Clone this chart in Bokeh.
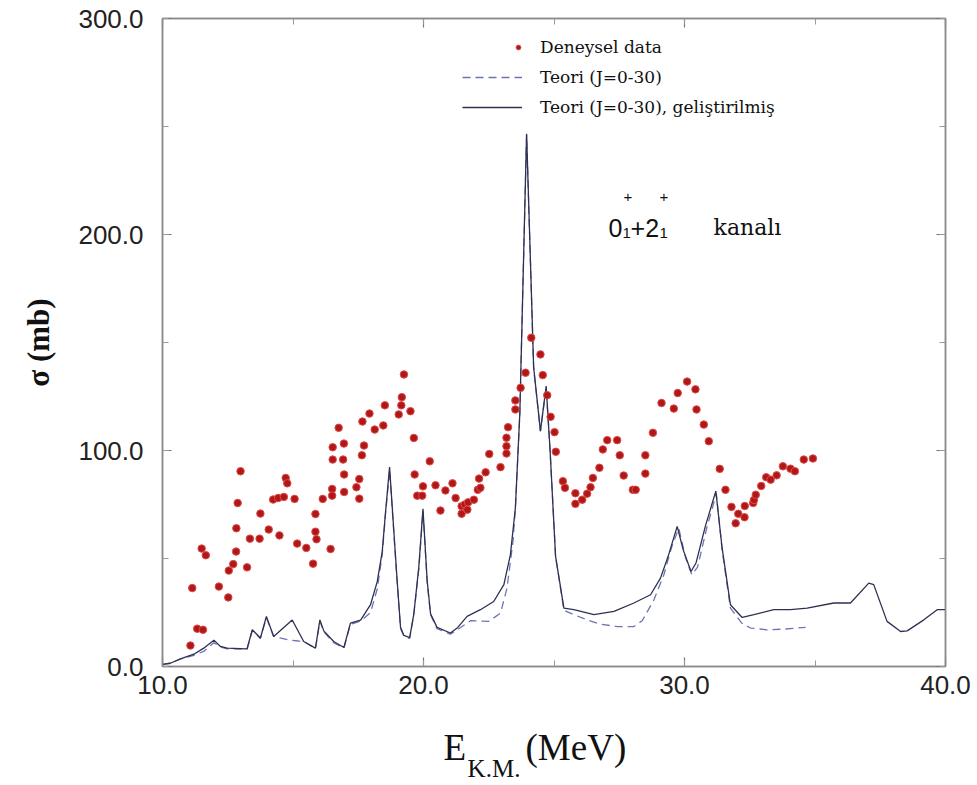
from bokeh.plotting import figure
from bokeh.models import (LinearAxis, SingleIntervalTicker, PrintfTickFormatter,
                          Legend, LegendItem, Label, Range1d)
from bokeh.layouts import column
from bokeh.core.properties import value
from bokeh.embed import file_html
from bokeh.resources import INLINE

# ---------------- data ----------------
exp_E = [11.07, 11.14, 11.33, 11.50, 11.55, 11.66, 12.16, 12.52, 12.54, 12.71,
         12.82, 12.83, 12.88, 12.99, 13.24, 13.35, 13.72, 13.75, 14.07, 14.24,
         14.43, 14.48, 14.65, 14.72, 14.78, 15.06, 15.16, 15.51, 15.77, 15.86,
         15.86, 15.90, 16.14, 16.44, 16.50, 16.50, 16.52, 16.52, 16.75, 16.92,
         16.95, 16.96, 16.96, 17.43, 17.54, 17.54, 17.64, 17.66, 17.72, 17.93,
         18.13, 18.46, 18.52, 19.05, 19.15, 19.17, 19.25, 19.50, 19.63, 19.66,
         19.76, 19.95, 19.98, 20.24, 20.46, 20.65, 20.84, 21.11, 21.23, 21.46,
         21.46, 21.58, 21.68, 21.71, 21.93, 22.08, 22.13, 22.18, 22.38, 22.52,
         22.95, 23.18, 23.18, 23.18, 23.24, 23.52, 23.52, 23.72, 23.91, 24.13,
         24.48, 24.57, 24.74, 24.87, 25.02, 25.07, 25.34, 25.42, 25.82, 25.82,
         26.08, 26.27, 26.40, 26.49, 26.74, 26.87, 27.04, 27.42, 27.52, 27.67,
         28.02, 28.13, 28.50, 28.50, 28.79, 29.12, 29.59, 29.74, 30.10, 30.42,
         30.46, 30.74, 30.93, 31.35, 31.57, 31.80, 31.96, 32.06, 32.30, 32.31,
         32.63, 32.66, 32.73, 32.94, 33.13, 33.30, 33.53, 33.77, 34.06, 34.23,
         34.57, 34.92]
exp_sigma = [9.7, 36.3, 17.5, 54.6, 17.0, 51.5, 37.0, 32.0, 44.4, 47.4,
             53.2, 64.0, 75.7, 90.4, 45.9, 59.2, 59.2, 70.8, 63.4, 77.3,
             78.0, 60.7, 78.5, 87.3, 84.8, 77.6, 56.9, 54.9, 47.6, 70.6,
             62.4, 58.9, 77.6, 54.4, 82.2, 79.1, 95.8, 101.5, 110.5, 95.8,
             103.2, 88.9, 80.8, 83.0, 86.8, 77.7, 97.8, 113.4, 102.3, 117.1,
             109.7, 111.6, 120.9, 116.7, 120.9, 124.7, 135.2, 118.2, 105.8, 88.9,
             79.1, 79.1, 83.4, 95.0, 83.9, 72.2, 81.5, 84.8, 78.0, 74.2,
             70.7, 75.0, 72.6, 76.0, 77.2, 81.8, 87.0, 82.7, 89.9, 98.4,
             92.3, 98.6, 102.0, 105.9, 110.8, 119.0, 123.2, 129.0, 136.0, 152.2,
             144.5, 134.9, 125.6, 115.6, 108.5, 99.4, 85.8, 82.7, 80.2, 75.3,
             77.2, 80.0, 83.0, 87.3, 92.0, 100.5, 104.8, 104.8, 97.8, 88.4,
             81.8, 81.8, 97.8, 89.3, 108.2, 122.0, 119.4, 126.6, 131.9, 128.3,
             119.0, 112.0, 104.3, 91.5, 81.8, 73.9, 66.3, 70.7, 69.1, 74.3,
             75.7, 77.1, 79.5, 83.6, 87.6, 86.5, 88.5, 92.7, 91.6, 90.4,
             95.8, 96.3]

# improved theory (solid)
imp_E = [10.0, 10.3, 10.69, 11.2, 11.58, 11.97, 12.22, 12.48, 13.24, 13.44,
         13.63, 13.75, 13.98, 14.26, 14.97, 15.41, 15.86, 16.03, 16.18, 16.56,
         16.95, 17.2, 17.59, 17.97, 18.23, 18.42, 18.54, 18.7, 18.99, 19.12,
         19.25, 19.47, 19.63, 19.82, 19.98, 20.14, 20.27, 20.52, 21.03, 21.29,
         21.67, 22.18, 22.69, 23.08, 23.33, 23.52, 23.69, 23.95, 24.22, 24.48,
         24.7, 24.85, 25.06, 25.38, 25.76, 26.53, 27.3, 28.06, 28.7, 29.08,
         29.4, 29.72, 29.95, 30.25, 30.44, 30.8, 31.2, 31.44, 31.76, 32.21,
         32.66, 33.42, 34.06, 34.7, 35.72, 36.36, 37.06, 37.25, 37.76, 38.28,
         38.53, 39.17, 39.68, 40.0]
imp_sigma = [1.0, 1.5, 3.5, 5.7, 8.5, 12.2, 9.3, 8.5, 8.2, 17.0,
             14.7, 13.1, 23.2, 13.9, 21.5, 11.6, 8.5, 21.6, 16.5, 11.6,
             8.8, 20.1, 21.5, 28.6, 39.4, 53.3, 70.7, 92.3, 39.8, 18.2,
             14.4, 13.4, 24.4, 46.0, 73.0, 39.8, 24.4, 18.1, 15.5, 17.8,
             23.2, 26.3, 30.1, 37.9, 51.8, 73.4, 117.0, 246.6, 138.6, 109.0,
             129.8, 100.0, 51.0, 27.0, 26.3, 24.0, 25.5, 29.4, 33.2, 40.9,
             52.0, 64.9, 54.0, 44.0, 47.9, 65.0, 81.2, 55.0, 28.6, 22.7,
             24.0, 26.3, 26.3, 27.0, 29.4, 29.4, 38.6, 37.9, 20.9, 16.2,
             16.5, 21.6, 26.3, 26.3]

# original theory (dashed)
th_E = [10.0, 10.3, 10.69, 11.2, 11.58, 11.97, 12.22, 12.48, 13.24, 13.44,
        13.63, 13.75, 13.98, 14.26, 14.85, 15.2, 15.41, 15.86, 16.03, 16.18,
        16.56, 16.95, 17.2, 17.59, 17.97, 18.23, 18.42, 18.54, 18.7, 18.99,
        19.12, 19.25, 19.47, 19.63, 19.82, 19.98, 20.14, 20.27, 20.52, 21.03,
        21.29, 21.8, 22.5, 22.95, 23.2, 23.43, 23.52, 23.69, 23.95, 24.22,
        24.48, 24.7, 24.85, 25.06, 25.38, 25.76, 26.27, 26.78, 27.42, 28.06,
        28.38, 28.83, 29.21, 29.5, 29.78, 30.05, 30.28, 30.5, 30.85, 31.22,
        31.44, 31.76, 32.2, 32.53, 33.17, 33.8, 34.64]
th_sigma = [1.0, 1.5, 3.5, 5.2, 7.0, 11.0, 9.0, 8.2, 8.0, 16.5,
            14.5, 13.0, 22.5, 13.9, 12.3, 11.8, 11.6, 8.3, 21.0, 16.0,
            11.0, 8.5, 19.5, 21.0, 25.0, 36.0, 52.0, 70.0, 91.0, 39.0,
            17.5, 14.0, 13.0, 24.0, 45.0, 72.0, 39.0, 24.0, 17.5, 15.0,
            17.0, 21.2, 20.9, 24.7, 36.3, 58.0, 73.0, 117.0, 246.0, 138.0,
            109.0, 129.0, 100.0, 51.0, 26.0, 24.0, 21.6, 19.6, 18.5, 18.5,
            21.2, 30.9, 42.5, 55.0, 64.0, 50.0, 42.5, 46.0, 64.0, 80.0,
            54.0, 27.0, 20.0, 17.8, 17.0, 17.3, 18.1]

x_ticks_interval = 10
y_ticks_interval = 100

# ---------------- main figure ----------------
p = figure(width=977, height=720, output_backend="svg", toolbar_location=None,
           x_range=Range1d(10, 40), y_range=Range1d(0, 300),
           min_border_left=162, min_border_right=32,
           min_border_top=18, min_border_bottom=54,
           x_axis_type=None, y_axis_type=None)
p.background_fill_color = "white"
p.border_fill_color = "white"
p.outline_line_color = "#8a8a8a"
p.outline_line_width = 1.5
p.xgrid.visible = False
p.ygrid.visible = False

def make_axis(kind, show_labels):
    ticker = SingleIntervalTicker(interval=x_ticks_interval if kind == "x" else y_ticks_interval,
                                  num_minor_ticks=2)
    ax = LinearAxis(ticker=ticker, formatter=PrintfTickFormatter(format="%.1f"))
    ax.axis_line_color = "#8a8a8a"
    ax.axis_line_width = 1.5
    ax.major_tick_in = 9
    ax.major_tick_out = 0
    ax.minor_tick_in = 6
    ax.minor_tick_out = 0
    ax.major_tick_line_color = "#777777"
    ax.minor_tick_line_color = "#999999"
    ax.major_tick_line_width = 1.2
    ax.minor_tick_line_width = 1.0
    if show_labels:
        ax.major_label_text_font = "Liberation Sans"
        ax.major_label_text_font_size = "26px"
        ax.major_label_text_color = "#222222"
    else:
        ax.major_label_text_font_size = "0px"
        ax.major_label_text_alpha = 0
    return ax

xb = make_axis("x", True)
xb.major_label_standoff = 9
p.add_layout(xb, "below")
yl = make_axis("y", True)
yl.major_label_standoff = 19
yl.axis_label = "σ (mb)"
yl.axis_label_text_font = "Liberation Serif"
yl.axis_label_text_font_style = "bold"
yl.axis_label_text_font_size = "31px"
yl.axis_label_text_color = "#111111"
yl.axis_label_standoff = 19
p.add_layout(yl, "left")
p.add_layout(make_axis("x", False), "above")
p.add_layout(make_axis("y", False), "right")

# ---------------- glyphs ----------------
dash_r = p.line(th_E, th_sigma, line_color="#6d74b5", line_width=1.3, line_dash="8 5")
solid_r = p.line(imp_E, imp_sigma, line_color="#2e3150", line_width=1.3)
pts_r = p.scatter(exp_E, exp_sigma, marker="circle", size=7.5,
                  fill_color="#b01818", line_color="#e04a4a", line_width=1)

def style_legend(lg, gw):
    lg.glyph_width = gw
    lg.glyph_height = 20
    lg.label_height = 20
    lg.spacing = 10
    lg.padding = 0
    lg.margin = 0
    lg.border_line_alpha = 0
    lg.background_fill_alpha = 0
    lg.label_text_font = "DejaVu Serif"
    lg.label_text_font_size = "17px"
    lg.label_text_color = "#111111"

# data-point entry: dot sits just left of the text, as in the original
legend_pts = Legend(items=[LegendItem(label="Deneysel data", renderers=[pts_r])],
                    location=(350, 609))
style_legend(legend_pts, 12)
legend_pts.label_standoff = 16
p.add_layout(legend_pts)

legend_lines = Legend(items=[LegendItem(label="Teori (J=0-30)", renderers=[dash_r]),
                             LegendItem(label="Teori (J=0-30), geliştirilmiş", renderers=[solid_r])],
                      location=(300, 549))
style_legend(legend_lines, 60)
legend_lines.label_standoff = 18
p.add_layout(legend_lines)

# ---------------- channel annotation ----------------
def lab(x, y, text, font, size, xo=0, yo=0):
    p.add_layout(Label(x=x, y=y, text=text, x_offset=xo, y_offset=yo,
                       text_font=font, text_font_size=size, text_color="#111111",
                       text_baseline="alphabetic", text_align="left"))

ann_x, ann_y = 27.09, 203.2
lab(ann_x, ann_y, "0", "Liberation Sans", "25px")
lab(ann_x, ann_y, "1", "Liberation Sans", "15px", xo=14, yo=-5)
lab(ann_x, ann_y, "+", "Liberation Sans", "15px", xo=15, yo=31)
lab(ann_x, ann_y, "+2", "Liberation Sans", "25px", xo=22)
lab(ann_x, ann_y, "1", "Liberation Sans", "15px", xo=51, yo=-5)
lab(ann_x, ann_y, "+", "Liberation Sans", "15px", xo=51, yo=31)
lab(ann_x, ann_y, "kanalı", "DejaVu Serif", "22px", xo=105)

# ---------------- x axis title strip (with subscript) ----------------
t = figure(width=977, height=65, output_backend="svg", toolbar_location=None,
           title=None, frame_width=783, frame_height=65,
           x_range=p.x_range, y_range=Range1d(0, 65),
           min_border_left=162, min_border_right=32,
           min_border_top=0, min_border_bottom=0,
           x_axis_type=None, y_axis_type=None)
t.outline_line_color = None
t.xgrid.visible = False
t.ygrid.visible = False
t.border_fill_color = "white"
t.background_fill_color = "white"
title_font = value("Liberation Serif")
t.text(x=[20.77], y=[38], text=["E"], text_font=title_font, text_font_size="37px",
       text_color="#111111", text_baseline="alphabetic", text_align="left")
t.text(x=[21.69], y=[17], text=["K.M."], text_font=title_font, text_font_size="25px",
       text_color="#111111", text_baseline="alphabetic", text_align="left")
t.text(x=[23.91], y=[38], text=["(MeV)"], text_font=title_font, text_font_size="37px",
       text_color="#111111", text_baseline="alphabetic", text_align="left")

layout = column(p, t, spacing=0)
open("out.html", "w").write(file_html(layout, INLINE))
